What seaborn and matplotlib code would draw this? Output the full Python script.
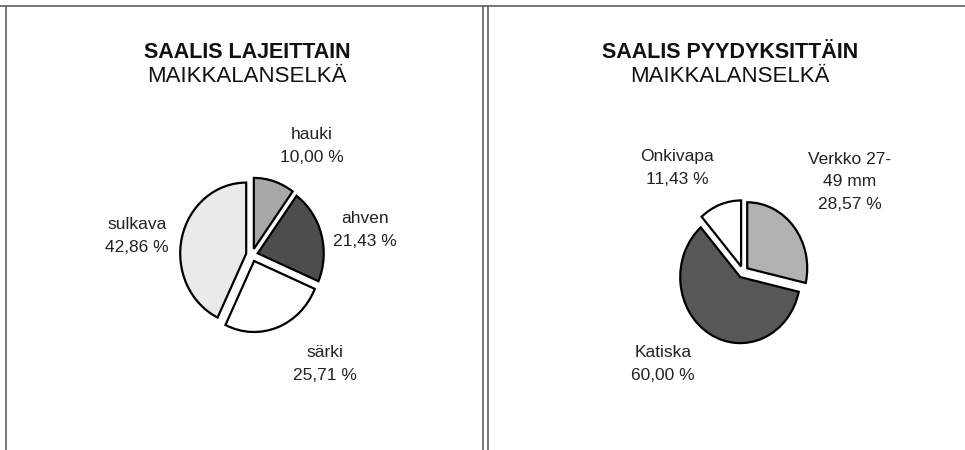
import matplotlib
matplotlib.use("Agg")
import matplotlib.pyplot as plt
import seaborn as sns
from matplotlib.lines import Line2D

sns.set_theme(style="white")
plt.rcParams["font.family"] = ["Liberation Sans", "DejaVu Sans"]

# --- data ---
lajit = ["hauki", "ahven", "särki", "sulkava"]
lajit_osuus = [10.00, 21.43, 25.71, 42.86]
lajit_varit = ["#a8a8a8", "#4d4d4d", "#ffffff", "#eaeaea"]

pyydykset = ["Verkko 27-\n49 mm", "Katiska", "Onkivapa"]
pyydykset_osuus = [28.57, 60.00, 11.43]
pyydykset_varit = ["#b2b2b2", "#575757", "#ffffff"]

otsikot = ["SAALIS LAJEITTAIN", "SAALIS PYYDYKSITTÄIN"]
alue = "MAIKKALANSELKÄ"

W, H = 965, 450
fig = plt.figure(figsize=(W / 100, H / 100), dpi=100)
fig.patch.set_facecolor("white")


def px(x, y):
    # pixel coords (from top-left) -> figure fraction
    return x / W, 1 - y / H


def pie_axes(cx, cy, rx, ry, lim=1.25):
    w, h = 2 * lim * rx, 2 * lim * ry
    ax = fig.add_axes([(cx - w / 2) / W, 1 - (cy + h / 2) / H, w / W, h / H])
    return ax


def draw_pie(ax, values, colors):
    ax.pie(values, colors=colors, startangle=90, counterclock=False,
           explode=[0.09] * len(values),
           wedgeprops=dict(edgecolor="black", linewidth=1.6))
    ax.set_aspect("auto")
    ax.set_xlim(-1.25, 1.25)
    ax.set_ylim(-1.25, 1.25)
    ax.axis("off")


def label(name, val):
    return f"{name}\n{val:.2f} %".replace(".", ",")


txt = dict(ha="center", va="center", fontsize=12.5, linespacing=1.65,
           color="#222222")

# left pie - catch by species
ax1 = pie_axes(252, 255, 66, 71)
draw_pie(ax1, lajit_osuus, lajit_varit)
lab_pos1 = [(312, 146), (365, 230), (325, 364), (137, 236)]
for n, v, (x, y) in zip(lajit, lajit_osuus, lab_pos1):
    fig.text(*px(x, y), label(n, v), **txt)

# right pie - catch by gear
ax2 = pie_axes(743, 272, 60, 66)
draw_pie(ax2, pyydykset_osuus, pyydykset_varit)
lab_pos2 = [(850, 182), (663, 364), (677, 168)]
for n, v, (x, y) in zip(pyydykset, pyydykset_osuus, lab_pos2):
    fig.text(*px(x, y), label(n, v), **txt)

# titles
for cx, t in zip([247, 730], otsikot):
    fig.text(*px(cx, 52), t, ha="center", va="center", fontsize=15.5,
             fontweight="bold", color="#111111")
    fig.text(*px(cx, 76), alue, ha="center", va="center", fontsize=16,
             color="#111111")

# panel frames
frame = dict(color="#6a6a6a", linewidth=1.3)
fig.add_artist(Line2D([0, 1], [1 - 6 / H] * 2, **frame))
fig.add_artist(Line2D([6 / W] * 2, [0, 1 - 6 / H], **frame))
fig.add_artist(Line2D([483 / W] * 2, [0, 1 - 6 / H], **frame))
fig.add_artist(Line2D([488 / W] * 2, [0, 1 - 6 / H], **frame))

fig.savefig("out.png", dpi=100, facecolor="white")
